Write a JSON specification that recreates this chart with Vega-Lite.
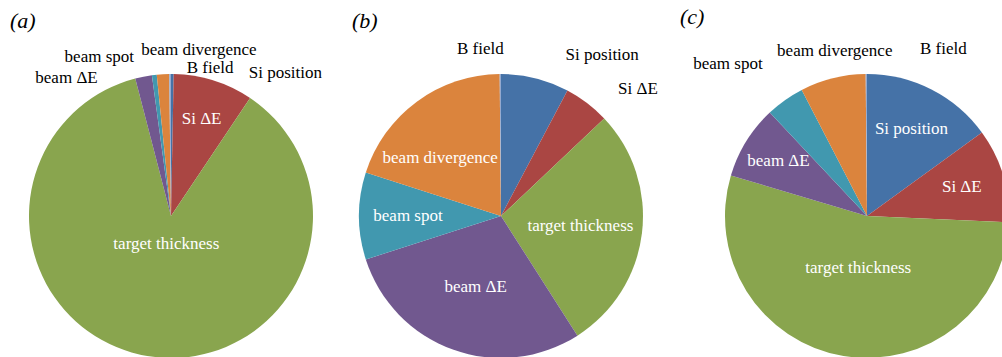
{
  "$schema": "https://vega.github.io/schema/vega-lite/v6.json",
  "padding": {"top": 6, "left": 0, "right": 0, "bottom": 0},
  "spacing": 0,
  "bounds": "flush",
  "config": {"view": {"stroke": null}, "font": "Liberation Serif", "text": {"font": "Liberation Serif", "fontSize": 17}},
  "resolve": {"scale": {"theta": "independent"}},
  "datasets": {
    "a": [
      {"category": "Si position", "value": 0.3, "order": 1},
      {"category": "Si ΔE", "value": 9.1, "order": 2},
      {"category": "target thickness", "value": 86.55, "order": 3},
      {"category": "beam ΔE", "value": 1.9, "order": 4},
      {"category": "beam spot", "value": 0.55, "order": 5},
      {"category": "beam divergence", "value": 1.4, "order": 6},
      {"category": "B field", "value": 0.2, "order": 7}
    ],
    "b": [
      {"category": "Si position", "value": 7.75, "order": 1},
      {"category": "Si ΔE", "value": 5.2, "order": 2},
      {"category": "target thickness", "value": 28.0, "order": 3},
      {"category": "beam ΔE", "value": 29.1, "order": 4},
      {"category": "beam spot", "value": 9.9, "order": 5},
      {"category": "beam divergence", "value": 19.9, "order": 6},
      {"category": "B field", "value": 0.15, "order": 7}
    ],
    "c": [
      {"category": "Si position", "value": 15.0, "order": 1},
      {"category": "Si ΔE", "value": 10.7, "order": 2},
      {"category": "target thickness", "value": 53.9, "order": 3},
      {"category": "beam ΔE", "value": 8.4, "order": 4},
      {"category": "beam spot", "value": 4.4, "order": 5},
      {"category": "beam divergence", "value": 7.45, "order": 6},
      {"category": "B field", "value": 0.15, "order": 7}
    ]
  },
  "hconcat": [
    {
      "width": 342, "height": 366,
      "title": {"text": "(a)", "anchor": "start", "dx": 10, "offset": 0, "fontSize": 22, "font": "Liberation Serif", "fontStyle": "italic", "fontWeight": "normal"},
      "data": {"name": "a"},
      "encoding": {
        "theta": {"field": "value", "type": "quantitative", "stack": true},
        "order": {"field": "order", "type": "quantitative"},
        "detail": {"field": "category", "type": "nominal"}
      },
      "layer": [
        {"mark": {"type": "arc", "outerRadius": 142},
         "encoding": {"color": {"field": "category", "type": "nominal", "legend": null,
           "scale": {"domain": ["Si position", "Si ΔE", "target thickness", "beam ΔE", "beam spot", "beam divergence", "B field"],
                     "range": ["#4572A7", "#AA4643", "#89A54E", "#71588F", "#4198AF", "#DB843D", "#93A9CF"]}}}},
        {"mark": {"type": "text", "radius": 102, "color": "white"},
         "encoding": {"text": {"condition": {"test": "datum.category === 'Si ΔE'", "field": "category", "type": "nominal"}, "value": ""}}},
        {"mark": {"type": "text", "radius": 28, "color": "white"},
         "encoding": {"text": {"condition": {"test": "datum.category === 'target thickness'", "field": "category", "type": "nominal"}, "value": ""}}},
        {"mark": {"type": "text", "radius": 142, "dx": 113, "dy": -1, "color": "black"},
         "encoding": {"text": {"condition": {"test": "datum.category === 'Si position'", "field": "category", "type": "nominal"}, "value": ""}}},
        {"mark": {"type": "text", "radius": 142, "dx": 40, "dy": -6, "color": "black"},
         "encoding": {"text": {"condition": {"test": "datum.category === 'B field'", "field": "category", "type": "nominal"}, "value": ""}}},
        {"mark": {"type": "text", "radius": 142, "dx": 36, "dy": -24, "color": "black"},
         "encoding": {"text": {"condition": {"test": "datum.category === 'beam divergence'", "field": "category", "type": "nominal"}, "value": ""}}},
        {"mark": {"type": "text", "radius": 142, "dx": -55, "dy": -18, "color": "black"},
         "encoding": {"text": {"condition": {"test": "datum.category === 'beam spot'", "field": "category", "type": "nominal"}, "value": ""}}},
        {"mark": {"type": "text", "radius": 142, "dx": -77, "dy": 1, "color": "black"},
         "encoding": {"text": {"condition": {"test": "datum.category === 'beam ΔE'", "field": "category", "type": "nominal"}, "value": ""}}}
      ]
    },
    {
      "width": 318, "height": 366,
      "title": {"text": "(b)", "anchor": "start", "dx": 13, "offset": 0, "fontSize": 22, "font": "Liberation Serif", "fontStyle": "italic", "fontWeight": "normal"},
      "data": {"name": "b"},
      "encoding": {
        "theta": {"field": "value", "type": "quantitative", "stack": true},
        "order": {"field": "order", "type": "quantitative"},
        "detail": {"field": "category", "type": "nominal"}
      },
      "layer": [
        {"mark": {"type": "arc", "outerRadius": 142},
         "encoding": {"color": {"field": "category", "type": "nominal", "legend": null}}},
        {"mark": {"type": "text", "radius": 80, "color": "white"},
         "encoding": {"text": {"condition": {"test": "datum.category === 'target thickness'", "field": "category", "type": "nominal"}, "value": ""}}},
        {"mark": {"type": "text", "radius": 75, "color": "white"},
         "encoding": {"text": {"condition": {"test": "datum.category === 'beam ΔE'", "field": "category", "type": "nominal"}, "value": ""}}},
        {"mark": {"type": "text", "radius": 93, "color": "white"},
         "encoding": {"text": {"condition": {"test": "datum.category === 'beam spot'", "field": "category", "type": "nominal"}, "value": ""}}},
        {"mark": {"type": "text", "radius": 84, "dx": -11, "dy": 10, "color": "white"},
         "encoding": {"text": {"condition": {"test": "datum.category === 'beam divergence'", "field": "category", "type": "nominal"}, "value": ""}}},
        {"mark": {"type": "text", "radius": 142, "dx": -20, "dy": -25, "color": "black"},
         "encoding": {"text": {"condition": {"test": "datum.category === 'B field'", "field": "category", "type": "nominal"}, "value": ""}}},
        {"mark": {"type": "text", "radius": 142, "dx": 67, "dy": -23, "color": "black"},
         "encoding": {"text": {"condition": {"test": "datum.category === 'Si position'", "field": "category", "type": "nominal"}, "value": ""}}},
        {"mark": {"type": "text", "radius": 142, "dx": 51, "dy": -14, "color": "black"},
         "encoding": {"text": {"condition": {"test": "datum.category === 'Si ΔE'", "field": "category", "type": "nominal"}, "value": ""}}}
      ]
    },
    {
      "width": 414, "height": 366,
      "title": {"text": "(c)", "anchor": "start", "dx": 20, "offset": 0, "fontSize": 22, "font": "Liberation Serif", "fontStyle": "italic", "fontWeight": "normal"},
      "data": {"name": "c"},
      "encoding": {
        "theta": {"field": "value", "type": "quantitative", "stack": true},
        "order": {"field": "order", "type": "quantitative"},
        "detail": {"field": "category", "type": "nominal"}
      },
      "layer": [
        {"mark": {"type": "arc", "outerRadius": 142},
         "encoding": {"color": {"field": "category", "type": "nominal", "legend": null}}},
        {"mark": {"type": "text", "radius": 98, "color": "white"},
         "encoding": {"text": {"condition": {"test": "datum.category === 'Si position'", "field": "category", "type": "nominal"}, "value": ""}}},
        {"mark": {"type": "text", "radius": 99, "color": "white"},
         "encoding": {"text": {"condition": {"test": "datum.category === 'Si ΔE'", "field": "category", "type": "nominal"}, "value": ""}}},
        {"mark": {"type": "text", "radius": 53, "color": "white"},
         "encoding": {"text": {"condition": {"test": "datum.category === 'target thickness'", "field": "category", "type": "nominal"}, "value": ""}}},
        {"mark": {"type": "text", "radius": 104, "color": "white"},
         "encoding": {"text": {"condition": {"test": "datum.category === 'beam ΔE'", "field": "category", "type": "nominal"}, "value": ""}}},
        {"mark": {"type": "text", "radius": 142, "dx": 77, "dy": -25, "color": "black"},
         "encoding": {"text": {"condition": {"test": "datum.category === 'B field'", "field": "category", "type": "nominal"}, "value": ""}}},
        {"mark": {"type": "text", "radius": 142, "dx": 2, "dy": -27, "color": "black"},
         "encoding": {"text": {"condition": {"test": "datum.category === 'beam divergence'", "field": "category", "type": "nominal"}, "value": ""}}},
        {"mark": {"type": "text", "radius": 142, "dx": -57, "dy": -36, "color": "black"},
         "encoding": {"text": {"condition": {"test": "datum.category === 'beam spot'", "field": "category", "type": "nominal"}, "value": ""}}}
      ]
    }
  ]
}
